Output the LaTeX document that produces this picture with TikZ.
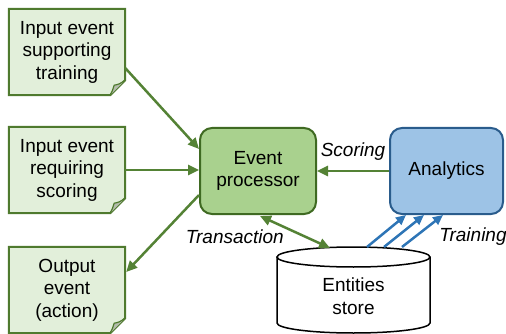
\documentclass[tikz,border=0pt]{standalone}
\usepackage{fontspec}
\setmainfont{Liberation Sans}
\usetikzlibrary{arrows.meta,calc}
\definecolor{notefill}{HTML}{E2EFDA}
\definecolor{notedraw}{HTML}{4F7A2E}
\definecolor{foldgray}{HTML}{B4BCAC}
\definecolor{epfill}{HTML}{A9D18E}
\definecolor{epdraw}{HTML}{3F6A22}
\definecolor{anfill}{HTML}{9DC3E6}
\definecolor{andraw}{HTML}{2A5C8C}
\definecolor{arrowgreen}{HTML}{548235}
\definecolor{arrowblue}{HTML}{2E75B6}
\pgfdeclarelayer{background}
\pgfsetlayers{background,main}
\begin{document}
\begin{tikzpicture}[x=1pt,y=-1pt,
  every node/.style={font=\fontsize{19}{22.5}\selectfont, align=center, inner sep=0pt},
  notebox/.style={minimum width=116pt, minimum height=86pt},
  procbox/.style={draw=epdraw, fill=epfill, line width=2pt, rounded corners=12pt,
    minimum width=116pt, minimum height=86pt},
  anbox/.style={draw=andraw, fill=anfill, line width=2pt, rounded corners=12pt,
    minimum width=113pt, minimum height=86pt},
  lbl/.style={font=\fontsize{19}{22.5}\selectfont\itshape},
  gtip/.style={Triangle[length=11pt,width=10pt]},
  garrow/.style={draw=arrowgreen, line width=2.5pt, -{Triangle[length=11pt,width=10pt]}},
  barrow/.style={draw=arrowblue, line width=2.5pt, -{Triangle[length=10pt,width=9pt]}}
]
\useasboundingbox (0,0) rectangle (506,334);

% event notes
\node[notebox] (n1) at (67,52) {Input event\\supporting\\training};
\node[notebox] (n2) at (67,170) {Input event\\requiring\\scoring};
\node[notebox] (n3) at (67,290) {Output\\event\\(action)};

% notes are drawn as sheets with a folded corner
\begin{pgfonlayer}{background}
\foreach \n in {n1,n2,n3}{
  \draw[draw=notedraw, fill=notefill, line width=2pt, line join=miter]
    (\n.north west) -- (\n.north east) -- ($(\n.south east)+(0,-15)$)
    -- ($(\n.south east)+(-15,0)$) -- (\n.south west) -- cycle;
  \filldraw[fill=foldgray, draw=notedraw, line width=1.2pt, line join=round]
    ($(\n.south east)+(-15,0)$) .. controls ($(\n.south east)+(-13,-4)$) .. ($(\n.south east)+(-11,-10)$)
    .. controls ($(\n.south east)+(-6,-11)$) .. ($(\n.south east)+(0,-15)$);
}
\end{pgfonlayer}

% processing boxes
\node[procbox] (ep) at (258,171) {Event\\processor};
\node[anbox] (an) at (446.5,171) {Analytics};

% entities store cylinder
\draw[line width=1.5pt, fill=white] (277,257) -- (277,323)
  arc[start angle=180, end angle=0, x radius=76.5, y radius=10] -- (430,257);
\draw[line width=1.5pt, fill=white] (353.5,257) ellipse[x radius=76.5, y radius=10];
\node[minimum width=153pt, minimum height=60pt] (store) at (353.5,296) {Entities\\store};

% connector end points on the store's lid
\coordinate (lidT) at (330,248);
\coordinate (lidA) at (367,247);
\coordinate (lidB) at (384,247);
\coordinate (lidC) at (402,247);

% green flows
\draw[garrow] ($(n1.east)+(0,16)$) -- ($(ep.west)+(0,-22)$);
\draw[garrow] (n2.east) -- (ep.west |- n2.east);
\draw[garrow] ($(ep.west)+(0,24)$) -- ($(n3.east)+(1,-18)$);
\draw[garrow] (an.west) -- (ep.east);
\draw[draw=arrowgreen, line width=2.5pt, {Triangle[length=11pt,width=10pt]}-{Triangle[length=11pt,width=10pt]}]
  ($(ep.south)+(2,1)$) -- (lidT);

% blue training flows
\draw[barrow] (lidA) -- ($(an.south)+(-40.5,0)$);
\draw[barrow] (lidB) -- ($(an.south)+(-22.5,0)$);
\draw[barrow] (lidC) -- ($(an.south)+(-3.5,0)$);

% flow labels
\node[lbl] (lscore) at (353,152) {Scoring};
\node[lbl, anchor=east] (ltrans) at (284,237) {Transaction};
\node[lbl] (ltrain) at (473,237) {Training};
\end{tikzpicture}
\end{document}
